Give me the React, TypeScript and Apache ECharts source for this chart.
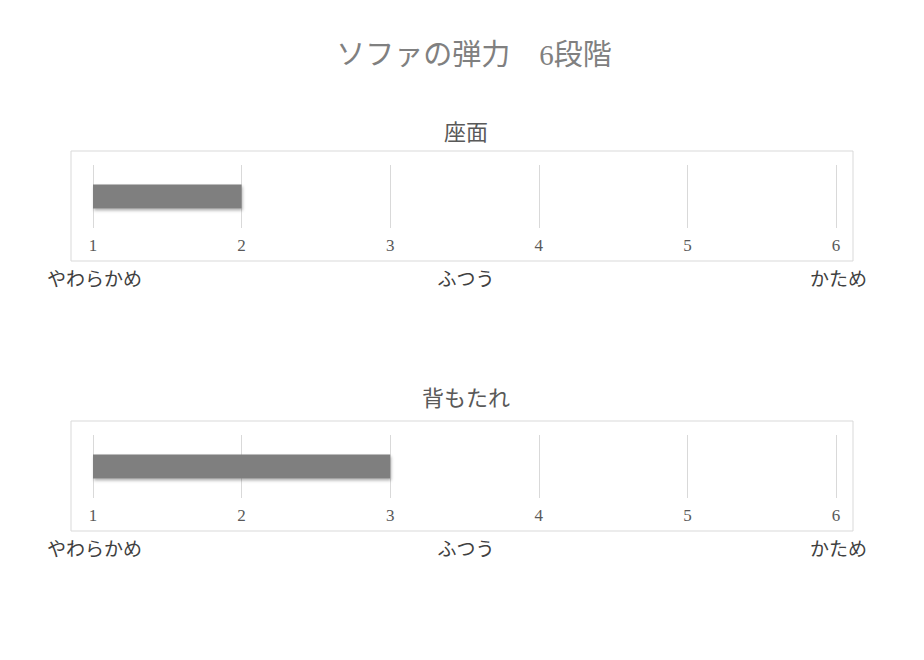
import React, { useEffect, useRef } from 'react';
import * as echarts from 'echarts';

const mainTitle = 'ソファの弾力　6段階';
const panelTitles = ['座面', '背もたれ'];
const panelValues = [2, 3];
const scaleMin = 1;
const scaleMax = 6;
const scaleWords = ['やわらかめ', 'ふつう', 'かため'];

const FONT = '"Liberation Serif", "DejaVu Serif", "Noto Sans CJK JP", serif';

const App: React.FC = () => {
  const chartRef = useRef<HTMLDivElement>(null);

  useEffect(() => {
    if (!chartRef.current) return;
    const chart = echarts.init(chartRef.current, null, { renderer: 'svg' });

    const panelTop = [151, 421];
    const titleY = [132, 398];
    const boxLeft = 71;
    const boxWidth = 782;
    const boxHeight = 110;

    const graphics: any[] = [];
    panelTop.forEach((top, i) => {
      graphics.push({
        type: 'rect',
        shape: { x: boxLeft, y: top, width: boxWidth, height: boxHeight },
        style: { fill: 'none', stroke: '#d9d9d9', lineWidth: 1 },
        silent: true,
      });
      graphics.push({
        type: 'text',
        x: 466,
        y: titleY[i],
        style: {
          text: panelTitles[i],
          fill: '#595959',
          font: `22px ${FONT}`,
          textAlign: 'center',
          textVerticalAlign: 'middle',
        },
      });
      const wordY = top + 128;
      const wordFont = `19px ${FONT}`;
      graphics.push({
        type: 'text',
        x: 47,
        y: wordY,
        style: { text: scaleWords[0], fill: '#404040', font: wordFont, textAlign: 'left', textVerticalAlign: 'middle' },
      });
      graphics.push({
        type: 'text',
        x: 466,
        y: wordY,
        style: { text: scaleWords[1], fill: '#404040', font: wordFont, textAlign: 'center', textVerticalAlign: 'middle' },
      });
      graphics.push({
        type: 'text',
        x: 867,
        y: wordY,
        style: { text: scaleWords[2], fill: '#404040', font: wordFont, textAlign: 'right', textVerticalAlign: 'middle' },
      });
    });

    const option: echarts.EChartsOption = {
      animation: false,
      title: {
        text: mainTitle,
        left: 469,
        top: 35,
        textAlign: 'center',
        textStyle: { color: '#808080', fontSize: 29, fontWeight: 'normal', fontFamily: FONT },
      },
      grid: panelTop.map((top) => ({
        left: 93,
        width: 743,
        top: top + 14,
        height: 63,
      })),
      xAxis: panelTop.map((_, i) => ({
        type: 'value',
        gridIndex: i,
        min: scaleMin,
        max: scaleMax,
        interval: 1,
        axisLine: { show: false },
        axisTick: { show: false },
        axisLabel: { color: '#595959', fontSize: 17, fontFamily: FONT, margin: 9 },
        splitLine: { show: true, lineStyle: { color: '#d9d9d9', width: 1 } },
      })),
      yAxis: panelTop.map((_, i) => ({
        type: 'category',
        gridIndex: i,
        data: [panelTitles[i]],
        axisLine: { show: false },
        axisTick: { show: false },
        axisLabel: { show: false },
      })),
      series: panelValues.map((v, i) => ({
        type: 'bar',
        xAxisIndex: i,
        yAxisIndex: i,
        data: [v],
        barWidth: 24,
        itemStyle: {
          color: '#7f7f7f',
          shadowColor: 'rgba(0,0,0,0.3)',
          shadowBlur: 3,
          shadowOffsetY: 2,
          shadowOffsetX: 1,
        },
      })),
      graphic: graphics,
    };

    chart.setOption(option);
    return () => chart.dispose();
  }, []);

  return (
    <div
      ref={chartRef}
      style={{ position: 'fixed', left: 0, top: 0, width: '924px', height: '660px', background: '#fff' }}
    />
  );
};

export default App;
